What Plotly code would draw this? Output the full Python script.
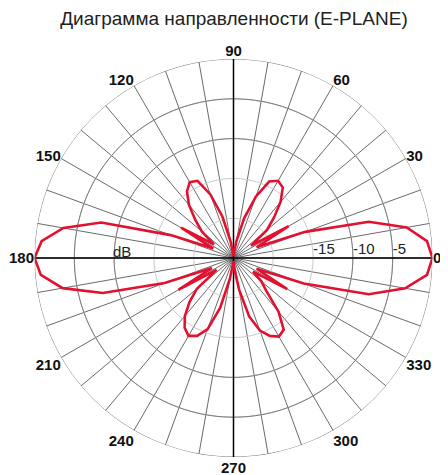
import plotly.graph_objects as go

# ---- data (E-plane pattern, dB, 5 degree steps) ----
angles_deg = list(range(0, 360, 5))
gain_db = [
    0.0, -0.6, -2.9, -7.4, -15.4, -21.8, -17.0, -22.3, -19.5, -17.8,   # 0..45
    -15.8, -14.2, -13.8, -14.4, -16.8, -19.8, -22.8, -24.3,            # 50..85
    -24.8, -24.4, -22.9, -19.6, -16.5, -14.3, -14.0, -14.8, -16.3,     # 90..130
    -18.2, -19.8, -22.0, -17.4, -22.2, -16.6, -7.8, -3.3, -0.8,        # 135..175
    0.0, -0.7, -3.2, -8.0, -15.8, -22.0, -17.0, -22.4, -19.0, -17.2,   # 180..225
    -15.5, -14.3, -13.7, -14.2, -15.5, -18.5, -22.3, -24.2,            # 230..265
    -24.6, -23.5, -21.0, -17.4, -15.3, -14.2, -13.6, -14.0, -16.2,     # 270..310
    -19.2, -20.4, -22.0, -17.2, -21.8, -15.6, -7.4, -3.1, -0.6,        # 315..355
]
radial_range = [-25, 0]
radial_grid = [-20, -15, -10, -5]
radial_label_vals = [-15, -10, -5]
radial_label_text = ["-15", "-10", "-5"]
dark_circles = [-10, -5, 0]
angular_ticks = list(range(0, 360, 10))
angular_labels = [str(a) if a % 30 == 0 else "" for a in angular_ticks]

title_text = "Диаграмма направленности (E-PLANE)"
unit_text = "dB"

FONT = "Arial, Liberation Sans, sans-serif"
RED = "#e3112f"

fig = go.Figure()

# darker outer grid circles (incl. outer boundary)
circle_theta = list(range(0, 361, 2))
for rv in dark_circles:
    fig.add_trace(go.Scatterpolar(
        r=[rv] * len(circle_theta), theta=circle_theta, mode="lines",
        line=dict(color="#7a7a7a", width=1), hoverinfo="skip", showlegend=False,
        cliponaxis=False))

# black cross axes
fig.add_trace(go.Scatterpolar(
    r=[radial_range[1], radial_range[0], radial_range[1], None,
       radial_range[1], radial_range[0], radial_range[1]],
    theta=[0, 0, 180, None, 90, 90, 270],
    mode="lines", line=dict(color="black", width=1.5),
    hoverinfo="skip", showlegend=False))

# radial scale labels, placed by the radial scale just right of each circle
fig.add_trace(go.Scatterpolar(
    r=radial_label_vals, theta=[0] * len(radial_label_vals),
    mode="text", text=radial_label_text, textposition="top right",
    textfont=dict(family=FONT, size=15, color="#222"),
    hoverinfo="skip", showlegend=False, cliponaxis=False))

# pattern
fig.add_trace(go.Scatterpolar(
    r=gain_db + gain_db[:1], theta=angles_deg + angles_deg[:1],
    mode="lines", line=dict(color=RED, width=2.6),
    showlegend=False, cliponaxis=False))

W, H = 448, 475
OFF = 8  # page body margin offset
cx, cy, R = 233.5 - OFF, 258.0 - OFF, 199.0

fig.update_layout(
    width=W, height=H,
    margin=dict(l=0, r=0, t=0, b=0),
    paper_bgcolor="white",
    showlegend=False,
    title=dict(text=title_text, x=(234 - OFF) / W, xanchor="center",
               y=1 - (18 - OFF) / H, yanchor="middle", yref="container",
               font=dict(family=FONT, size=19, color="#222")),
    polar=dict(
        domain=dict(x=[(cx - R) / W, (cx + R) / W],
                    y=[1 - (cy + R) / H, 1 - (cy - R) / H]),
        bgcolor="white",
        radialaxis=dict(
            range=radial_range, tickvals=radial_grid, showticklabels=False,
            angle=0, showline=False, ticks="",
            gridcolor="#cacaca", gridwidth=1),
        angularaxis=dict(
            rotation=0, direction="counterclockwise",
            tickvals=angular_ticks, ticktext=angular_labels, ticks="",
            gridcolor="#6a6a6a", gridwidth=1,
            showline=False,
            tickfont=dict(family=FONT, size=15, color="#111", weight="bold")),
    ),
    annotations=[dict(text=unit_text, x=(122 - OFF) / W, y=1 - (252 - OFF) / H,
                      xref="paper", yref="paper", showarrow=False,
                      xanchor="center", yanchor="middle",
                      font=dict(family=FONT, size=15, color="#222"))],
)

fig.write_html("out.html")
